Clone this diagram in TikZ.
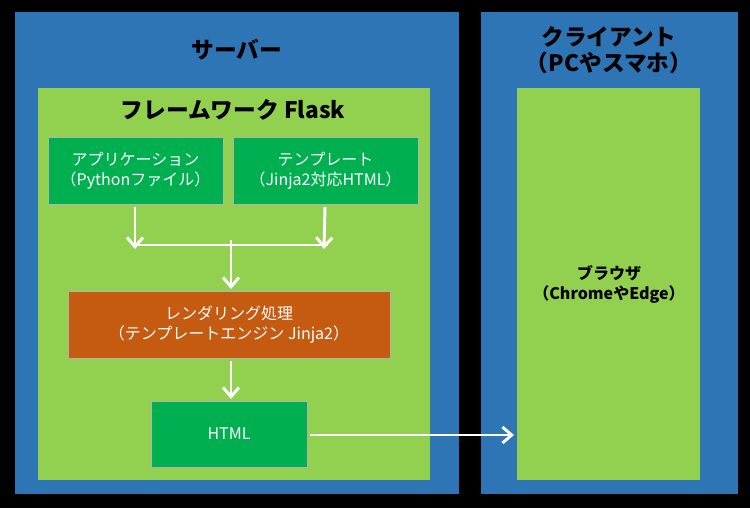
\documentclass[tikz,border=0pt]{standalone}
\usepackage{fontspec}
\setmainfont{Noto Sans CJK JP}
\usetikzlibrary{arrows.meta}
\definecolor{bl}{HTML}{2E75B6}
\definecolor{lg}{HTML}{92D050}
\definecolor{dg}{HTML}{00B050}
\definecolor{og}{HTML}{C55A11}
\begin{document}
\begin{tikzpicture}[x=0.75pt,y=-0.75pt,
  panel/.style={draw=black,fill=bl},
  inner/.style={draw=none,fill=lg},
  box/.style={draw=gray!60,fill=#1,text=white,font=\fontsize{12}{15}\selectfont,align=center},
  ttl/.style={font=\bfseries\fontsize{17}{20}\selectfont,align=center},
  arr/.style={draw=white,line width=2.2pt,-{Straight Barb[length=7pt,width=12pt,line width=2.2pt]}},
  ln/.style={draw=white,line width=2.2pt}]
\fill[black] (0,0) rectangle (750,508);
\useasboundingbox (0,0) rectangle (750,508);
\fill[bl] (15,12) rectangle (459,494);
\fill[bl] (481,12) rectangle (738,494);
\fill[lg] (38,88) rectangle (430,480);
\fill[lg] (517,88) rectangle (700,480);
\node[ttl] (srv) at (237,50) {サーバー};
\node[ttl] (cli) at (609,50) {クライアント\\（PCやスマホ）};
\node[ttl] (fw) at (233,110) {フレームワーク Flask};
\node[box=dg,minimum width=175\pgflinewidth] (app) at (135.5,170.5) {};
\path[box=dg] (48,137) rectangle (223,204);
\node[box=dg,draw=none,fill=none] (appt) at (135.5,170.5) {アプリケーション\\（Pythonファイル）};
\path[box=dg] (233,137) rectangle (418,204);
\node[box=dg,draw=none,fill=none] (tpl) at (325.5,170.5) {テンプレート\\（Jinja2対応HTML）};
\path[box=og] (68,291) rectangle (390,358);
\node[box=og,draw=none,fill=none] (rnd) at (229,324.5) {レンダリング処理\\（テンプレートエンジン Jinja2）};
\path[box=dg] (151,401) rectangle (307,467);
\node[box=dg,draw=none,fill=none] (html) at (229,434) {HTML};
\node[font=\bfseries\fontsize{12}{15}\selectfont,align=center] (brw) at (609,284) {ブラウザ\\（ChromeやEdge）};
\coordinate (jl) at (135,245);
\coordinate (jr) at (328,245);
\coordinate (jm) at (231,245);
\coordinate (a1) at (135,207);
\coordinate (a2) at (325,207);
\coordinate (hb) at (310,435);
\coordinate (bw) at (514,435);
\draw[arr] (a1) -- ([yshift=-3]jl);
\draw[arr] (a2) -- ([xshift=-3,yshift=-3]jr);
\draw[ln] (jl) -- (jr);
\draw[arr] ([yshift=4]jm) -- (231,289);
\draw[arr] (231,361) -- (231,399);
\draw[arr] (hb) -- (bw);
\end{tikzpicture}
\end{document}
